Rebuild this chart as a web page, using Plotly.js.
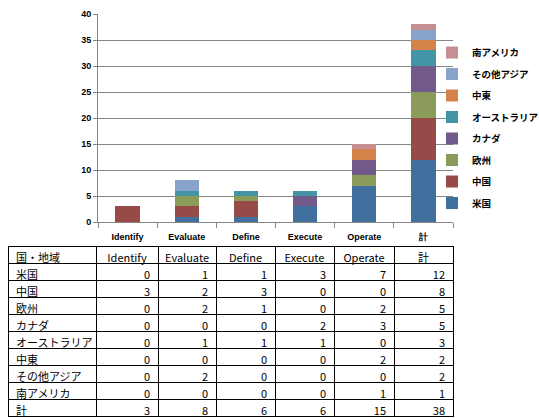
<!DOCTYPE html>
<html>
<head>
<meta charset="utf-8">
<script src="https://cdn.plot.ly/plotly-3.0.1.min.js"></script>
<style>html,body{margin:0;padding:0;background:#fff;}#chart{width:539px;height:418px;}</style>
</head>
<body>
<div id="chart"></div>
<script>
const categories = ["Identify", "Evaluate", "Define", "Execute", "Operate", "計"];
const regions = ["米国", "中国", "欧州", "カナダ", "オーストラリア", "中東", "その他アジア", "南アメリカ"];
const usa = [0, 1, 1, 3, 7, 12];
const china = [3, 2, 3, 0, 0, 8];
const europe = [0, 2, 1, 0, 2, 5];
const canada = [0, 0, 0, 2, 3, 5];
const australia = [0, 1, 1, 1, 0, 3];
const middleEast = [0, 0, 0, 0, 2, 2];
const otherAsia = [0, 2, 0, 0, 0, 2];
const southAmerica = [0, 0, 0, 0, 1, 1];
const totals = [3, 8, 6, 6, 15, 38];
const tableHeader = ["国・地域"].concat(categories);
const colors = ["#41709F", "#964B49", "#8B9B59", "#715A8A", "#4494A8", "#D6834B", "#87A3C9", "#C58E90"];

const series = [usa, china, europe, canada, australia, middleEast, otherAsia, southAmerica];
const W = 539, H = 418;
const traces = series.map((vals, i) => ({
  type: 'bar', x: categories, y: vals, name: regions[i],
  marker: {color: colors[i], line: {width: 0}},
  legendgroup: 'g' + i, legendrank: 100 - i, hoverinfo: 'skip'
}));

const rowLabels = regions.concat(["計"]);
const colVals = [rowLabels];
for (let c = 0; c < categories.length; c++) {
  const col = series.map(s => s[c]);
  col.push(totals[c]);
  colVals.push(col);
}
const tfont = {family: 'Noto Sans CJK JP, DejaVu Sans', size: 11, color: '#000'};
traces.push({
  type: 'table',
  domain: {x: [8 / W, 453 / W], y: [0, 1 - 246 / H]},
  columnwidth: [88, 62, 58, 59, 59, 60, 59],
  header: {
    values: tableHeader,
    align: ['left', 'center', 'center', 'center', 'center', 'center', 'center'],
    height: 17,
    fill: {color: '#ffffff'},
    line: {color: '#000000', width: 1},
    font: tfont
  },
  cells: {
    values: colVals,
    align: ['left', 'right', 'right', 'right', 'right', 'right', 'right'],
    height: 17,
    fill: {color: '#ffffff'},
    line: {color: '#000000', width: 1},
    font: tfont
  }
});

const layout = {
  width: W, height: H,
  margin: {l: 0, r: 0, t: 0, b: 0, autoexpand: false},
  paper_bgcolor: '#fff', plot_bgcolor: '#fff',
  barmode: 'stack', bargap: 0.59,
  showlegend: true,
  legend: {
    x: 432 / W, y: 1 - 38 / H, xanchor: 'left', yanchor: 'top',
    traceorder: 'grouped', tracegroupgap: 2.5,
    font: {family: 'Noto Sans CJK JP, DejaVu Sans', size: 9.5, color: '#000', weight: 'bold'},
    itemwidth: 30, bgcolor: 'rgba(0,0,0,0)'
  },
  xaxis: {
    domain: [98 / W, 453 / W],
    type: 'category',
    showline: true, linecolor: '#868686', linewidth: 1,
    ticks: 'outside', tickson: 'boundaries', ticklen: 5, tickcolor: '#868686',
    ticklabelstandoff: 6,
    tickfont: {family: 'Liberation Sans', size: 9, color: '#000', weight: 'bold'},
    showgrid: false, fixedrange: true
  },
  yaxis: {
    domain: [1 - 222 / H, 1 - 14 / H],
    range: [0, 40], dtick: 5,
    showline: true, linecolor: '#868686', linewidth: 1,
    ticks: 'outside', ticklen: 4, tickcolor: '#868686',
    showgrid: true, gridcolor: '#868686', gridwidth: 1,
    zeroline: false,
    tickfont: {family: 'Liberation Sans', size: 9, color: '#000', weight: 'bold'},
    fixedrange: true
  }
};

Plotly.newPlot('chart', traces, layout, {displayModeBar: false, staticPlot: true});
</script>
</body>
</html>
